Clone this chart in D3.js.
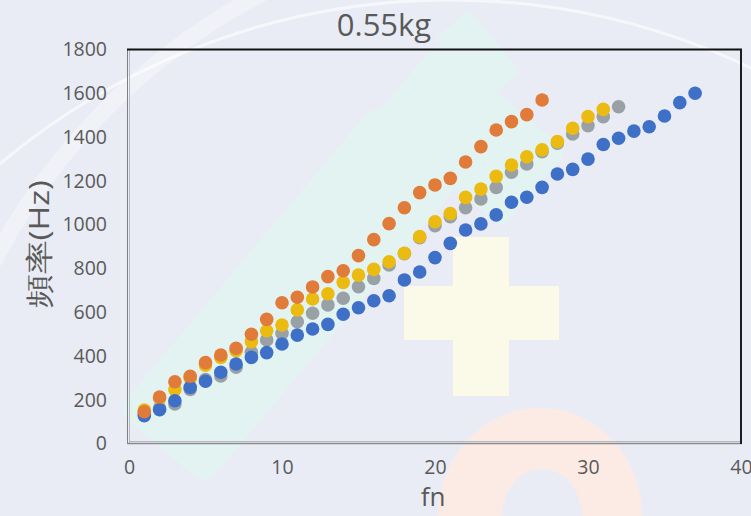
<!DOCTYPE html>
<html>
<head>
<meta charset="utf-8">
<script src="https://cdn.jsdelivr.net/npm/d3@7"></script>
<style>
  html, body { margin: 0; padding: 0; background: #e9ecf5; }
  svg { display: block; }
  text { font-family: "Open Sans", "Noto Sans", sans-serif; fill: #595959; }
</style>
</head>
<body>
<svg id="chart" width="751" height="516"></svg>
<script>
// ---------- data ----------
const chartTitle = "0.55kg";
const xTitle = "fn";
const yTitle = "頻率(Hz)";
const fnValues = [1,2,3,4,5,6,7,8,9,10,11,12,13,14,15,16,17,18,19,20,21,22,23,24,25,26,27,28,29,30,31,32,33,34,35,36,37];
const blueValues = [125,152,193,254,282,323,361,391,413,452,493,521,542,588,618,650,673,745,781,847,912,973,1001,1042,1100,1123,1168,1229,1250,1297,1364,1392,1425,1445,1494,1555,1598];
const orangeValues = [143,210,280,305,367,402,433,497,565,641,666,713,760,787,856,929,1002,1075,1144,1179,1209,1284,1354,1430,1468,1500,1567];
const grayValues = [135,160,178,245,290,306,346,414,471,501,554,593,631,661,714,752,813,865,938,993,1034,1075,1115,1167,1237,1275,1331,1370,1412,1450,1491,1536];
const yellowValues = [150,205,244,296,356,391,422,463,513,539,608,658,682,734,767,793,828,867,943,1011,1048,1122,1160,1218,1270,1308,1339,1377,1438,1491,1524];
const xTicks = [0,10,20,30,40];
const yTicks = [0,200,400,600,800,1000,1200,1400,1600,1800];

// draw order bottom -> top
const series = [
  {name: "gray", values: grayValues, color: "#99a1a7"},
  {name: "yellow", values: yellowValues, color: "#ebbb12"},
  {name: "blue", values: blueValues, color: "#3d70c6"},
  {name: "orange", values: orangeValues, color: "#e07b39"}
];

// ---------- layout ----------
const svg = d3.select("#chart");
const W = 751, H = 516;
const plot = {left: 129, right: 741, top: 49, bottom: 443};

const x = d3.scaleLinear().domain([0, 40]).range([plot.left, plot.right]);
const y = d3.scaleLinear().domain([0, 1800]).range([plot.bottom, plot.top]);

// ---------- watermark background ----------
const bg = svg.append("g");
bg.append("rect").attr("width", W).attr("height", H).attr("fill", "#e9ecf5");
// large faint arcs
bg.append("circle").attr("cx", 560).attr("cy", 560).attr("r", 640)
  .attr("fill", "none").attr("stroke", "#ffffff").attr("stroke-opacity", 0.35).attr("stroke-width", 16);
bg.append("circle").attr("cx", 450).attr("cy", 700).attr("r", 700)
  .attr("fill", "none").attr("stroke", "#ffffff").attr("stroke-opacity", 0.6).attr("stroke-width", 3);
// mint bands
bg.append("rect").attr("x", -58).attr("y", -200).attr("width", 116).attr("height", 400).attr("rx", 14)
  .attr("fill", "#e3f3f2").attr("transform", "translate(290,295) rotate(40)");
bg.append("rect").attr("x", -50).attr("y", -85).attr("width", 100).attr("height", 170).attr("rx", 10)
  .attr("fill", "#e3f3f2").attr("transform", "translate(470,135) rotate(-50)");
bg.append("rect").attr("x", -22).attr("y", -40).attr("width", 44).attr("height", 80).attr("rx", 6)
  .attr("fill", "#e3f3f2").attr("transform", "translate(478,55) rotate(-40)");
// yellow cross
bg.append("rect").attr("x", 453).attr("y", 237).attr("width", 56).attr("height", 159).attr("fill", "#fbf9e7");
bg.append("rect").attr("x", 404).attr("y", 286).attr("width", 155).attr("height", 54).attr("fill", "#fbf9e7");
// red ring
bg.append("path")
  .attr("d", "M 438 516 A 102 108 0 0 1 642 516 L 582 516 A 40 47 0 0 0 502 516 Z")
  .attr("fill", "#fcebe5");

// ---------- plot frame ----------
const frame = svg.append("g");
frame.append("line").attr("x1", 127.5).attr("x2", 127.5).attr("y1", plot.top).attr("y2", plot.bottom + 1)
  .attr("stroke", "#7f7f7f").attr("stroke-width", 1);
frame.append("line").attr("x1", 129.5).attr("x2", 129.5).attr("y1", plot.top).attr("y2", plot.bottom)
  .attr("stroke", "#b5b8c0").attr("stroke-width", 1);
frame.append("line").attr("x1", 127).attr("x2", plot.right + 1).attr("y1", 443.5).attr("y2", 443.5)
  .attr("stroke", "#8a8a8e").attr("stroke-width", 1.5);
frame.append("line").attr("x1", 129).attr("x2", plot.right).attr("y1", 441.5).attr("y2", 441.5)
  .attr("stroke", "#b5b8c0").attr("stroke-width", 1);
frame.append("line").attr("x1", 127).attr("x2", plot.right + 1).attr("y1", 49.5).attr("y2", 49.5)
  .attr("stroke", "#111111").attr("stroke-width", 2);
frame.append("line").attr("x1", 741).attr("x2", 741).attr("y1", plot.top).attr("y2", plot.bottom + 1)
  .attr("stroke", "#1a1d26").attr("stroke-width", 2);

// ---------- axes (labels only) ----------
const yAxis = d3.axisLeft(y).tickValues(yTicks).tickSize(0).tickPadding(0).tickFormat(d3.format("d"));
const gy = svg.append("g").attr("transform", "translate(107,0)").call(yAxis);
gy.select(".domain").remove();
gy.selectAll("text").attr("font-size", 19.5).attr("fill", "#595959")
  .attr("font-family", "Open Sans").attr("dy", "0.35em");

const xAxis = d3.axisBottom(x).tickValues(xTicks).tickSize(0).tickPadding(0).tickFormat(d3.format("d"));
const gx = svg.append("g").attr("transform", "translate(0,460)").call(xAxis);
gx.select(".domain").remove();
gx.selectAll("text").attr("font-size", 19.5).attr("fill", "#595959")
  .attr("font-family", "Open Sans").attr("dy", "0.71em");

// ---------- points ----------
series.forEach(s => {
  svg.append("g").selectAll("circle")
    .data(s.values.map((v, i) => ({fn: fnValues[i], v})))
    .join("circle")
    .attr("cx", d => x(d.fn))
    .attr("cy", d => y(d.v))
    .attr("r", 6.8)
    .attr("fill", s.color);
});

// ---------- titles ----------
svg.append("text").attr("x", 384).attr("y", 36).attr("text-anchor", "middle")
  .attr("font-size", 31).attr("fill", "#595959").text(chartTitle);
svg.append("text").attr("x", 433).attr("y", 506).attr("text-anchor", "middle")
  .attr("font-size", 26).attr("fill", "#595959").text(xTitle);
svg.append("text").attr("transform", "translate(49,244) rotate(-90)").attr("text-anchor", "middle")
  .attr("font-size", 28).attr("fill", "#595959")
  .attr("textLength", 128).attr("lengthAdjust", "spacingAndGlyphs")
  .attr("font-family", "'Noto Sans CJK TC', 'Open Sans', sans-serif").text(yTitle);
</script>
</body>
</html>
